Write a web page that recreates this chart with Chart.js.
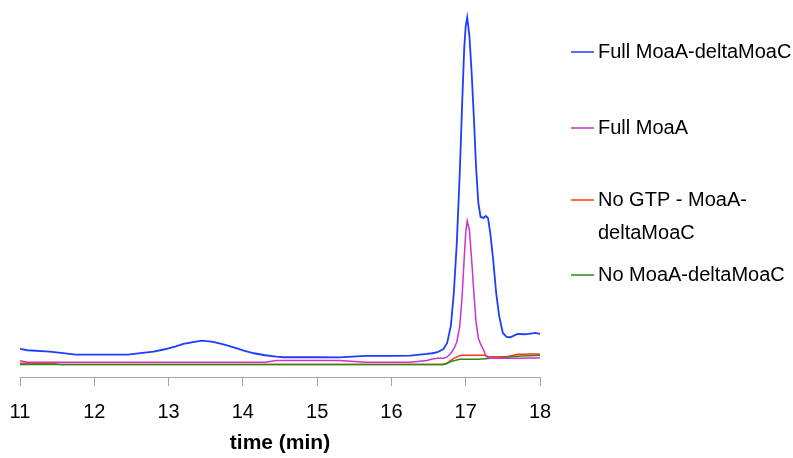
<!DOCTYPE html>
<html>
<head>
<meta charset="utf-8">
<script src="https://cdn.jsdelivr.net/npm/chart.js@4/dist/chart.umd.min.js"></script>
<style>
  html, body { margin: 0; padding: 0; background: #fff; }
  #chart { display: block; }
</style>
</head>
<body>
<canvas id="chart" width="793" height="458"></canvas>
<script>
// retention time (min), shared by all traces
const timeMin = [
  11.0, 11.1, 11.4, 11.55, 11.75, 12.0, 12.45, 12.65, 12.8, 12.95,
  13.1, 13.2, 13.35, 13.45, 13.6, 13.75, 13.9, 14.0, 14.15, 14.3,
  14.45, 14.55, 15.0, 15.3, 15.65, 16.0, 16.25, 16.48, 16.55, 16.62,
  16.7, 16.75, 16.8, 16.84, 16.88, 16.92, 16.95, 16.98, 17.0, 17.02,
  17.05, 17.08, 17.11, 17.14, 17.17, 17.2, 17.24, 17.27, 17.3, 17.33,
  17.37, 17.41, 17.45, 17.5, 17.55, 17.6, 17.7, 17.78, 17.85, 17.94, 18.0
];

// detector signal (arbitrary units)
const fullMoaADeltaMoaC = [
  29, 27.7, 26.3, 25, 23.3, 23.3, 23.3, 25, 26.3, 28.7,
  31.5, 34, 36, 37.3, 36, 33.3, 30, 27.5, 24.7, 22.7,
  21.3, 20.7, 20.7, 20.5, 22, 22, 22.3, 24, 24.7, 25.7,
  29, 35, 52, 85, 135, 205, 270, 330, 352, 360.7,
  342, 305, 260, 210, 175, 161, 160, 162, 160, 145,
  118, 85, 62, 45, 41, 40.7, 44, 43.7, 44, 45, 44
];
const fullMoaA = [
  17.3, 15.7, 15.7, 15.7, 15.7, 15.7, 15.7, 15.7, 15.7, 15.7,
  15.7, 15.7, 15.7, 15.7, 15.7, 15.7, 15.7, 15.7, 15.7, 15.7,
  17.5, 17.5, 17.5, 17.5, 15.7, 15.7, 15.7, 17.5, 19, 19.7,
  19.7, 21, 24.7, 29, 36, 52, 80, 120, 145, 157,
  148, 118, 85, 55, 40, 34, 28, 22, 20.5, 19.7,
  19.7, 19.7, 19.7, 19.7, 19.7, 19.7, 19.7, 19.7, 20, 20, 20.3
];
const noGtp = [
  14.7, 14.7, 14.7, 13.5, 13.5, 13.5, 13.5, 13.5, 13.5, 13.5,
  13.5, 13.5, 13.5, 13.5, 13.5, 13.5, 13.5, 13.5, 13.5, 13.5,
  13.5, 13.5, 13.5, 13.5, 13.5, 13.5, 13.5, 13.5, 13.5, 13.5,
  13.5, 15, 17.5, 19.5, 21, 22.3, 22.7, 22.7, 22.7, 22.7,
  22.7, 22.7, 22.7, 22.7, 22.7, 22.7, 22.7, 22.7, 21.3, 21.3,
  21.3, 21.3, 21.3, 21.3, 21.3, 22, 23.7, 23.7, 24, 24, 24
];
const noMoaA = [
  13.5, 13.5, 13.5, 13.5, 13.5, 13.5, 13.5, 13.5, 13.5, 13.5,
  13.5, 13.5, 13.5, 13.5, 13.5, 13.5, 13.5, 13.5, 13.5, 13.5,
  13.5, 13.5, 13.5, 13.5, 13.5, 13.5, 13.5, 13.5, 13.5, 13.5,
  13.5, 14.5, 16.5, 17.3, 18, 18.7, 18.7, 18.7, 18.7, 18.7,
  18.7, 18.7, 18.7, 18.7, 18.7, 19, 19, 19.3, 19.5, 19.7,
  19.7, 19.8, 20, 20.3, 20.7, 21.3, 21.7, 22, 22.3, 22.5, 22.7
];

const seriesLabels = ['Full MoaA-deltaMoaC', 'Full MoaA', 'No GTP - MoaA-deltaMoaC', 'No MoaA-deltaMoaC'];
const seriesValues = [fullMoaADeltaMoaC, fullMoaA, noGtp, noMoaA];
const seriesColors = ['#1f3dff', '#cc33cc', '#ff3a12', '#2b8a17'];
const xTickValues = [11, 12, 13, 14, 15, 16, 17, 18];

const FONT = '"Liberation Sans", Arial, sans-serif';
const AXIS_GREY = '#a6a6a6';

// Excel-style legend on the right: short line then label, long labels wrap
const legendRows = [52, 128, 200, 275];
const sideLegend = {
    id: 'sideLegend',
    afterDraw(chart) {
        const ctx = chart.ctx;
        const lineX0 = 571, lineX1 = 594, textX = 598;
        const maxW = chart.width - textX;
        ctx.save();
        ctx.font = '20px ' + FONT;
        ctx.textBaseline = 'middle';
        ctx.textAlign = 'left';
        chart.data.datasets.forEach((ds, i) => {
            const y = legendRows[i];
            ctx.strokeStyle = ds.borderColor;
            ctx.lineWidth = 1.5;
            ctx.beginPath();
            ctx.moveTo(lineX0, y);
            ctx.lineTo(lineX1, y);
            ctx.stroke();

            // greedy wrap after spaces / hyphens
            const parts = ds.label.split(/(?<=[\s-])/);
            const lines = [];
            let cur = '';
            parts.forEach(p => {
                if (cur && ctx.measureText(cur + p).width > maxW) {
                    lines.push(cur.trimEnd());
                    cur = p;
                } else {
                    cur += p;
                }
            });
            lines.push(cur);
            ctx.fillStyle = '#000';
            lines.forEach((ln, k) => ctx.fillText(ln, textX, y + k * 33));
        });
        ctx.restore();
    }
};

new Chart(document.getElementById('chart'), {
    type: 'line',
    data: {
        labels: timeMin,
        datasets: seriesLabels.map((label, i) => ({
            label: label,
            data: seriesValues[i],
            borderColor: seriesColors[i],
            backgroundColor: seriesColors[i],
            borderWidth: i === 0 ? 1.8 : 1.5,
            pointRadius: 0,
            tension: 0,
            fill: false,
            order: i === 3 ? 2 : (i === 2 ? 3 : i)
        }))
    },
    options: {
        responsive: false,
        animation: false,
        layout: { padding: { left: 20, right: 253, top: 10, bottom: 0 } },
        plugins: {
            legend: { display: false },
            tooltip: { enabled: false }
        },
        scales: {
            x: {
                type: 'linear',
                min: 11,
                max: 18,
                afterBuildTicks: axis => { axis.ticks = xTickValues.map(v => ({ value: v })); },
                ticks: {
                    color: '#000',
                    // tall line box instead of padding keeps labels low without widening the side padding
                    font: { family: FONT, size: 20, lineHeight: 2.7 },
                    padding: 0,
                    maxRotation: 0
                },
                grid: {
                    drawOnChartArea: false,
                    drawTicks: true,
                    tickLength: 8,
                    color: AXIS_GREY
                },
                border: { display: true, color: AXIS_GREY },
                title: {
                    display: true,
                    text: 'time (min)',
                    color: '#000',
                    font: { family: FONT, size: 21, weight: 'bold', lineHeight: 1.05 },
                    padding: { top: -8, bottom: 4 }
                }
            },
            y: {
                display: false,
                min: 0,
                max: 368
            }
        }
    },
    plugins: [sideLegend]
});
</script>
</body>
</html>
